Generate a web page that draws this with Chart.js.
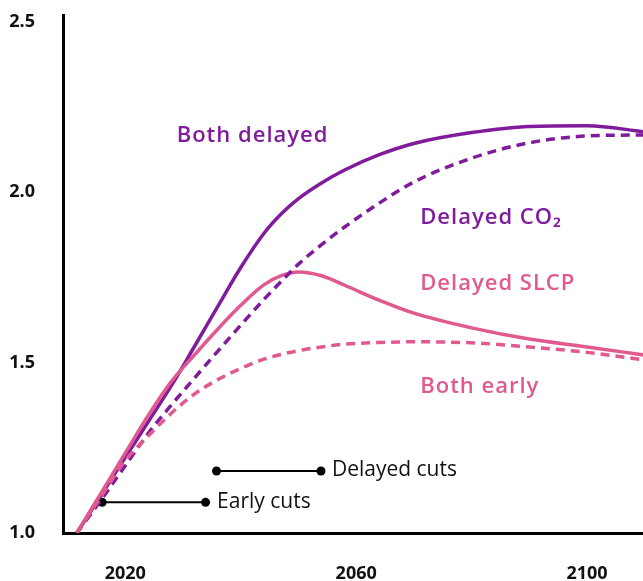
<!DOCTYPE html>
<html>
<head>
<meta charset="utf-8">
<script src="https://cdn.jsdelivr.net/npm/chart.js@4/dist/chart.umd.min.js"></script>
<style>
  html, body { margin: 0; padding: 0; background: #ffffff; }
  #wrap { width: 643px; height: 581px; }
</style>
</head>
<body>
<div id="wrap"><canvas id="c" width="643" height="581"></canvas></div>
<script>
// ---- data ----
const years = [2011.6, 2016, 2020, 2024, 2028, 2032, 2036, 2040, 2044, 2047, 2050, 2054, 2058, 2064, 2070, 2080, 2090, 2100, 2110];
const bothDelayed = [1.000, 1.116, 1.222, 1.327, 1.433, 1.548, 1.664, 1.779, 1.879, 1.936, 1.981, 2.027, 2.065, 2.110, 2.143, 2.175, 2.193, 2.195, 2.177];
const delayedSLCP = [1.000, 1.123, 1.235, 1.346, 1.445, 1.523, 1.598, 1.668, 1.728, 1.755, 1.766, 1.755, 1.727, 1.683, 1.645, 1.602, 1.569, 1.546, 1.522];
const delayedCO2  = [1.000, 1.102, 1.198, 1.293, 1.376, 1.455, 1.533, 1.610, 1.685, 1.738, 1.789, 1.846, 1.898, 1.968, 2.030, 2.100, 2.145, 2.165, 2.168];
const bothEarly   = [1.000, 1.112, 1.213, 1.285, 1.352, 1.408, 1.450, 1.483, 1.510, 1.524, 1.535, 1.546, 1.554, 1.559, 1.561, 1.558, 1.546, 1.530, 1.508];

const earlyCutsYears = [2016.0, 2033.9];
const earlyCutsValue = 1.090;
const delayedCutsYears = [2035.8, 2053.9];
const delayedCutsValue = 1.182;

const xTicks = [2020, 2060, 2100];
const yTicks = [1.0, 1.5, 2.0, 2.5];

const PURPLE = '#801c9c';
const PINK = '#e05a90';
const FONT = '"Open Sans", Lato, sans-serif';

const toXY = (xs, ys) => xs.map((x, i) => ({ x: x, y: ys[i] }));

const seriesLabels = [
  { text: 'Both delayed', x: 2028.9, y: 2.165, color: PURPLE, font: '600 22px ' + FONT, ls: '1px' },
  { text: 'Delayed CO\u2082', x: 2071.1, y: 1.925, color: PURPLE, font: '600 22px ' + FONT, ls: '1px' },
  { text: 'Delayed SLCP', x: 2071.1, y: 1.731, color: PINK, font: '600 22px ' + FONT, ls: '1px' },
  { text: 'Both early', x: 2071.1, y: 1.429, color: PINK, font: '600 22px ' + FONT, ls: '1px' },
  { text: 'Early cuts', x: 2035.9, y: 1.091, color: '#111', font: '400 21px ' + FONT, ls: '0px' },
  { text: 'Delayed cuts', x: 2055.8, y: 1.185, color: '#111', font: '400 21px ' + FONT, ls: '0px' }
];

const labelPlugin = {
  id: 'seriesLabels',
  afterDatasetsDraw(chart) {
    const ctx = chart.ctx;
    const xs = chart.scales.x, ys = chart.scales.y;
    ctx.save();
    ctx.textAlign = 'left';
    ctx.textBaseline = 'middle';
    seriesLabels.forEach(l => {
      ctx.font = l.font;
      ctx.fillStyle = l.color;
      if ('letterSpacing' in ctx) ctx.letterSpacing = l.ls;
      ctx.fillText(l.text, xs.getPixelForValue(l.x), ys.getPixelForValue(l.y));
    });
    ctx.restore();
  }
};

const lineDs = (label, ys, color, dashed) => ({
  label: label,
  data: toXY(years, ys),
  borderColor: color,
  borderWidth: 3.5,
  borderDash: dashed ? [9, 6] : [],
  pointRadius: 0,
  fill: false,
  cubicInterpolationMode: 'monotone'
});

const cutDs = (label, xs, v) => ({
  label: label,
  data: xs.map(x => ({ x: x, y: v })),
  borderColor: '#000',
  borderWidth: 2,
  pointRadius: 4.5,
  pointBackgroundColor: '#000',
  pointBorderWidth: 0,
  fill: false,
  tension: 0
});

new Chart(document.getElementById('c'), {
  type: 'line',
  data: {
    datasets: [
      lineDs('Both early', bothEarly, PINK, true),
      lineDs('Delayed CO2', delayedCO2, PURPLE, true),
      lineDs('Delayed SLCP', delayedSLCP, PINK, false),
      lineDs('Both delayed', bothDelayed, PURPLE, false),
      cutDs('Early cuts', earlyCutsYears, earlyCutsValue),
      cutDs('Delayed cuts', delayedCutsYears, delayedCutsValue)
    ]
  },
  options: {
    responsive: false,
    devicePixelRatio: 1,
    animation: false,
    layout: { autoPadding: false, padding: { top: 15, right: 0, left: 0, bottom: 0 } },
    plugins: { legend: { display: false }, tooltip: { enabled: false } },
    scales: {
      x: {
        type: 'linear',
        min: 2009.2,
        max: 2109.7,
        grid: { display: false, drawTicks: false },
        border: { display: true, color: '#000', width: 3 },
        ticks: { padding: 30, color: '#111', font: { family: FONT, weight: 'bold', size: 18 }, callback: v => String(v) },
        afterBuildTicks: s => { s.ticks = xTicks.map(v => ({ value: v })); },
        afterFit: s => { s.height = 48; s.paddingLeft = 0; s.paddingRight = 0; }
      },
      y: {
        type: 'linear',
        min: 1.0,
        max: 2.52,
        grid: { display: false, drawTicks: false },
        border: { display: true, color: '#000', width: 3 },
        ticks: { padding: 28, color: '#111', font: { family: FONT, weight: 'bold', size: 18 }, callback: v => v.toFixed(1) },
        afterBuildTicks: s => { s.ticks = yTicks.map(v => ({ value: v })); },
        afterFit: s => { s.width = 63; s.paddingTop = 0; s.paddingBottom = 0; }
      }
    }
  },
  plugins: [labelPlugin]
});
</script>
</body>
</html>
